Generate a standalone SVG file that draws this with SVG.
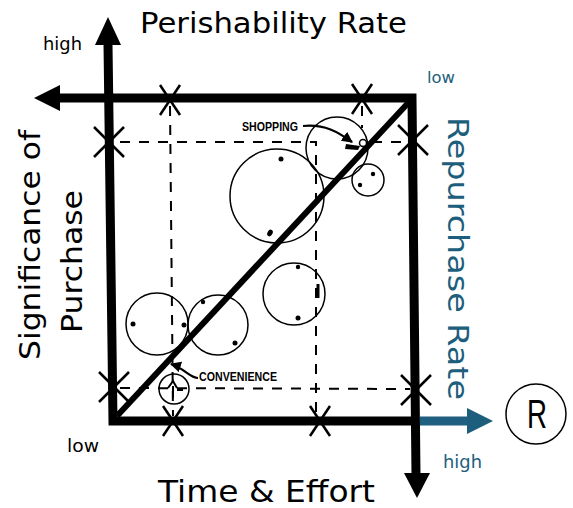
<svg xmlns="http://www.w3.org/2000/svg" xmlns:xlink="http://www.w3.org/1999/xlink" width="573" height="508" viewBox="0 0 573 508">
<style>
.ax{stroke:#000;stroke-width:9;fill:none;stroke-linejoin:miter}
.axt{stroke:#1f5f7f;stroke-width:9;fill:none}
.dash{stroke:#000;stroke-width:2;stroke-dasharray:10 9;fill:none}
.xm{stroke:#000;stroke-width:2.5;fill:none}
.c{fill:none;stroke:#000;stroke-width:1.5}
.dot{fill:#000}
.big{font-family:"DejaVu Sans","Liberation Sans",sans-serif;font-size:28px;fill:#000}
.sm{font-family:"DejaVu Sans","Liberation Sans",sans-serif;font-size:18px;fill:#000}
.teal{fill:#1d5e7c}
.tag{font-family:"Liberation Sans",Arial,sans-serif;font-weight:bold;font-size:12px;fill:#000}
.thin{stroke:#000;stroke-width:2.2;fill:none}
</style>
<defs>
<g id="xt"><line x1="-10" y1="-15" x2="10" y2="15"/><line x1="10" y1="-15" x2="-10" y2="15"/></g>
<g id="xw"><line x1="-15" y1="-15" x2="15" y2="15"/><line x1="15" y1="-15" x2="-15" y2="15"/></g>
<marker id="ah" viewBox="0 0 10 10" refX="9" refY="5" markerWidth="5" markerHeight="5" orient="auto"><path d="M0,0 L10,5 L0,10 z" fill="#000"/></marker>
</defs>

<g id="axes">
<path class="ax" d="M108,44 L113,421 H416"/>
<polygon points="108,17 95,45 121,45" fill="#000"/>
<path class="ax" d="M58,98 H412 L416,475"/>
<polygon points="34,98 60,85 60,111" fill="#000"/>
<polygon points="417,498 404,473 430,473" fill="#000"/>
<line class="axt" x1="420" y1="421" x2="470" y2="421"/>
<polygon points="493,421 467,408 467,434" fill="#1d5e7c"/>
</g>

<g id="connectors">
<line x1="409" y1="102" x2="117" y2="416" stroke="#000" stroke-width="6"/>
<path class="dash" d="M120,142 H316 V418"/>
<line class="dash" x1="372" y1="142" x2="408" y2="142"/>
<line class="dash" x1="362" y1="106" x2="362" y2="128"/>
<line class="dash" x1="170" y1="106" x2="173" y2="416"/>
<line class="dash" x1="120" y1="388" x2="410" y2="389"/>
<line x1="318" y1="284" x2="318" y2="298" stroke="#000" stroke-width="3"/>
<g class="xm">
<use xlink:href="#xt" x="170" y="100"/>
<use xlink:href="#xt" x="362" y="99"/>
<use xlink:href="#xt" x="173" y="421"/>
<use xlink:href="#xt" x="320" y="421"/>
<use xlink:href="#xw" x="109" y="142"/>
<use xlink:href="#xw" x="114" y="387"/>
<use xlink:href="#xw" x="413" y="140"/>
<use xlink:href="#xw" x="416" y="390"/>
</g>
<path class="thin" d="M303,126 C325,124 338,132 352,142" marker-end="url(#ah)"/>
<path d="M346,144 L360,146 L358,150 L345,149 z" fill="#000"/>
<path class="thin" d="M198,378 C190,378 184,368 171,364" marker-end="url(#ah)"/>
</g>

<g id="circle-big"><circle class="c" cx="277" cy="196" r="47"/><circle class="dot" cx="281" cy="159" r="2.5"/><ellipse class="dot" cx="270" cy="233" rx="2.5" ry="3.5" transform="rotate(30 270 233)"/></g>
<g id="circle-shopping"><circle class="c" cx="337" cy="148" r="31"/><circle cx="363" cy="143" r="3.5" fill="#fff" stroke="#000" stroke-width="1.5"/></g>
<g id="circle-small"><circle class="c" cx="368" cy="180" r="16"/><circle class="dot" cx="373" cy="174" r="2.2"/><circle class="dot" cx="360" cy="185" r="2.2"/></g>
<g id="circle-a"><circle class="c" cx="157" cy="324" r="31"/><circle class="dot" cx="133" cy="324" r="2.5"/><circle class="dot" cx="184" cy="325" r="2.5"/></g>
<g id="circle-b"><circle class="c" cx="218" cy="325" r="30"/><circle class="dot" cx="203" cy="302" r="2.2"/><circle class="dot" cx="235" cy="343" r="2.5"/></g>
<g id="circle-c"><circle class="c" cx="294" cy="294" r="31"/><circle class="dot" cx="298" cy="267" r="2.2"/><circle class="dot" cx="298" cy="318" r="2.5"/></g>
<g id="circle-convenience"><circle class="c" cx="174" cy="389" r="15"/><path d="M173,398 V386 M168,388 L173,381 L177,388 M177,390 H183" stroke="#000" stroke-width="2" fill="none"/></g>

<g id="labels">
<text class="big" x="140" y="33" textLength="267" lengthAdjust="spacingAndGlyphs">Perishability Rate</text>
<text class="big" x="158" y="502" textLength="217" lengthAdjust="spacingAndGlyphs" style="font-size:30px">Time &amp; Effort</text>
<text class="big" transform="translate(40,360) rotate(-90)" textLength="230" lengthAdjust="spacingAndGlyphs">Significance of</text>
<text class="big" transform="translate(82,333) rotate(-90)" textLength="143" lengthAdjust="spacingAndGlyphs">Purchase</text>
<text class="big teal" transform="translate(448,117) rotate(90)" textLength="283" lengthAdjust="spacingAndGlyphs">Repurchase Rate</text>
<text class="sm" x="43" y="50" textLength="39" lengthAdjust="spacingAndGlyphs">high</text>
<text class="sm" x="67" y="452" textLength="32" lengthAdjust="spacingAndGlyphs">low</text>
<text class="sm teal" x="427" y="83" style="font-size:16px" textLength="28" lengthAdjust="spacingAndGlyphs">low</text>
<text class="sm teal" x="443" y="468" textLength="39" lengthAdjust="spacingAndGlyphs">high</text>
<text class="tag" x="242" y="131" textLength="56" lengthAdjust="spacingAndGlyphs">SHOPPING</text>
<text class="tag" x="199" y="381" textLength="78" lengthAdjust="spacingAndGlyphs">CONVENIENCE</text>
</g>

<g id="node-r"><circle class="c" cx="536" cy="414" r="30"/><text x="537" y="428" text-anchor="middle" style="font-family:'Liberation Sans',Arial,sans-serif;font-size:40px" textLength="20" lengthAdjust="spacingAndGlyphs">R</text></g>
</svg>
